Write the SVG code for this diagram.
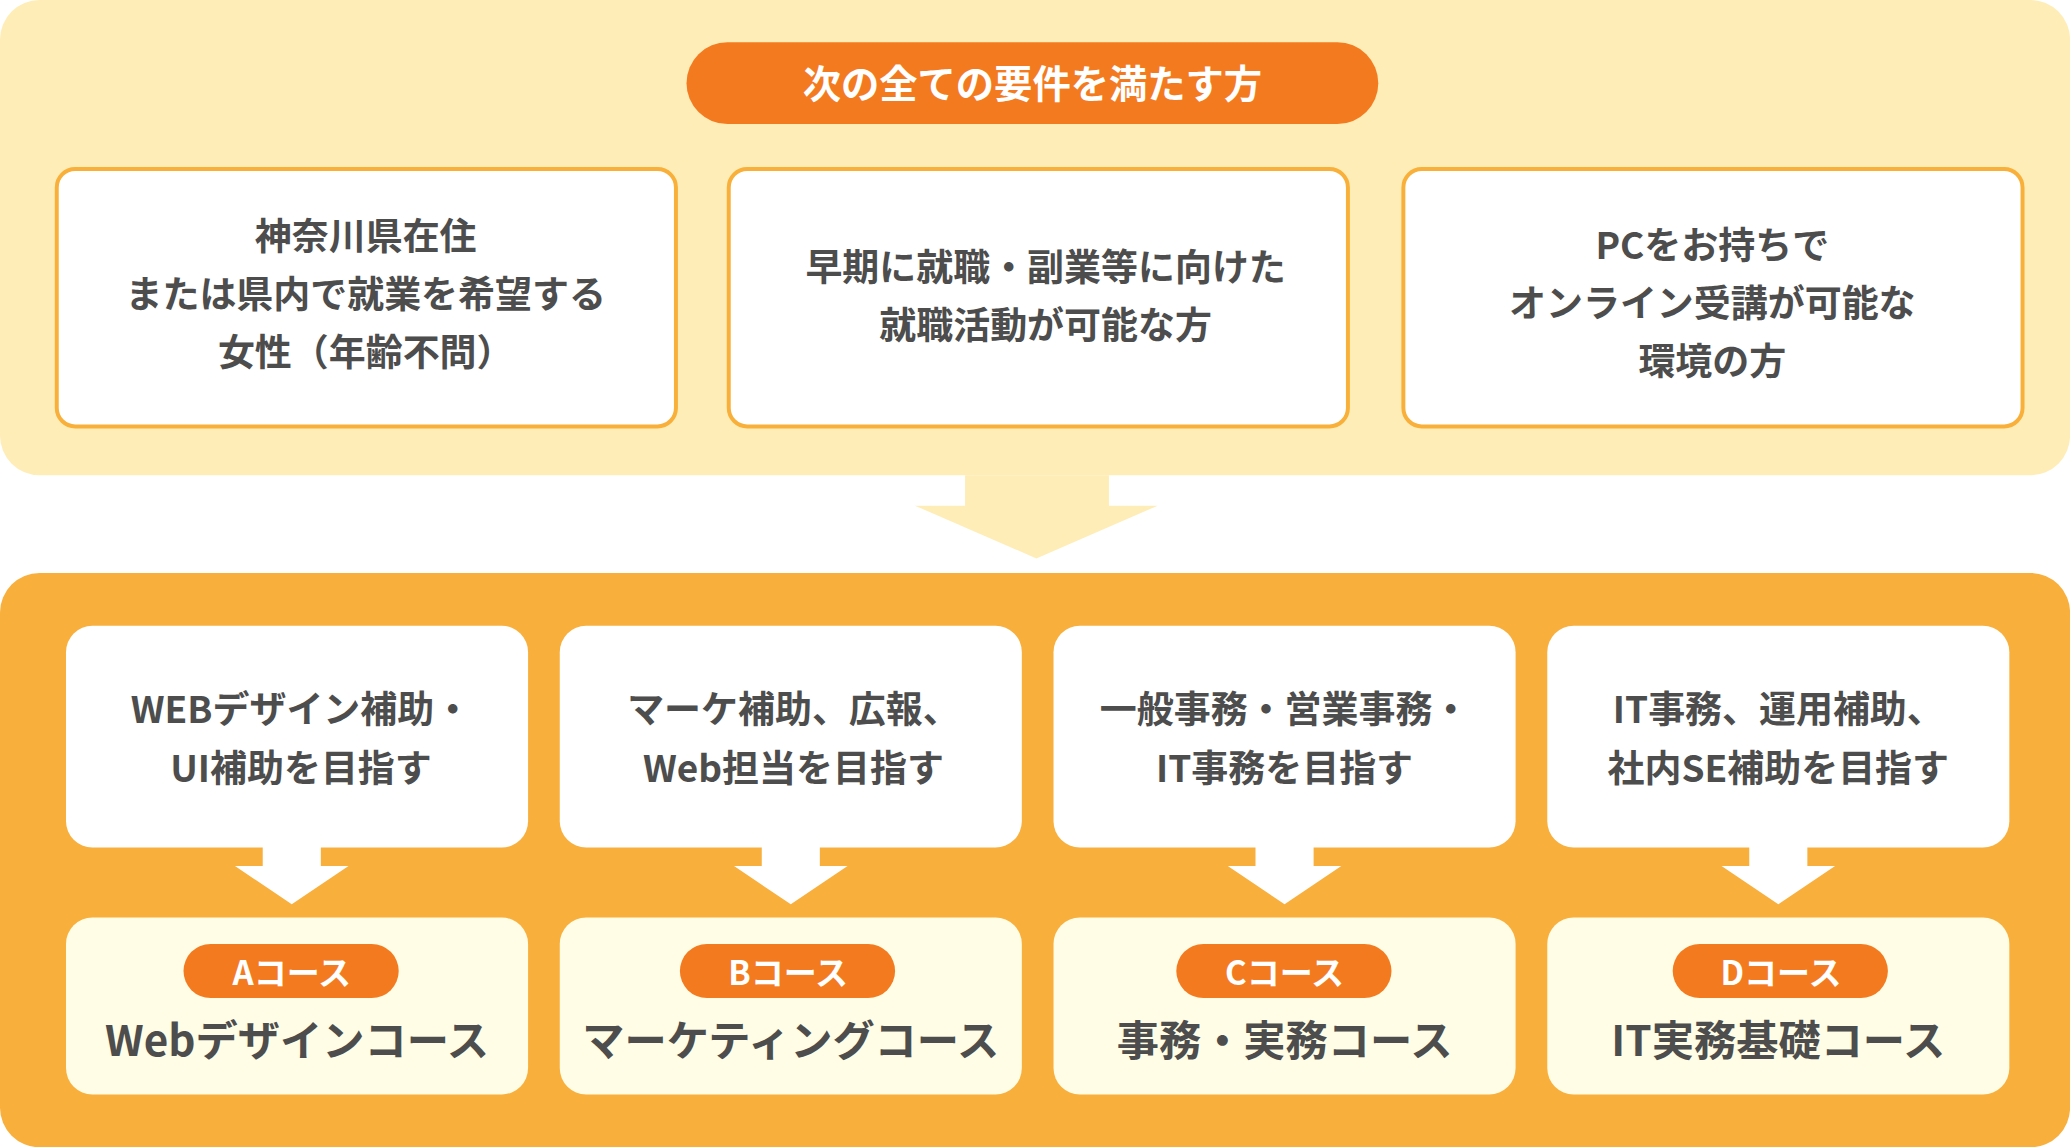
<svg xmlns="http://www.w3.org/2000/svg" width="2070" height="1147" viewBox="0 0 2070 1147">
<style>
.t{font-family:"Noto Sans CJK JP","Noto Sans",sans-serif;font-weight:bold;fill:#4d4d4d;text-anchor:middle}
.w{fill:#fff}
.req{fill:#fff;stroke:#f9b03a;stroke-width:3}
.pill{fill:#f47a20}
.crs{fill:#fffde6}
</style>
<rect width="2070" height="1147" fill="#fff"/>
<g transform="scale(1.3202)">
<g id="top-panel"><rect x="0" y="0" width="1568" height="360" rx="30" fill="#ffedb8"/></g>
<g id="title"><rect x="520" y="32" width="524" height="62" rx="31" class="pill"/><text x="782" y="74" class="t w" font-size="29" style="fill:#fff">次の全ての要件を満たす方</text></g>
<g id="req1"><rect x="43" y="128" width="469" height="195" rx="14" class="req"/><text class="t" font-size="28"><tspan x="277" y="189">神奈川県在住</tspan><tspan x="277" y="233">または県内で就業を希望する</tspan><tspan x="277" y="277">女性（年齢不問）</tspan></text></g>
<g id="req2"><rect x="552" y="128" width="469" height="195" rx="14" class="req"/><text class="t" font-size="28"><tspan x="792" y="213">早期に就職・副業等に向けた</tspan><tspan x="792" y="257">就職活動が可能な方</tspan></text></g>
<g id="req3"><rect x="1063" y="128" width="469" height="195" rx="14" class="req"/><text class="t" font-size="28"><tspan x="1297" y="196">PCをお持ちで</tspan><tspan x="1297" y="240">オンライン受講が可能な</tspan><tspan x="1297" y="284">環境の方</tspan></text></g>
<g id="connectors">
<path d="M731 360H840V383H877L785 423L693 383H731Z" fill="#ffedb8"/>
</g>
<g id="bottom-panel"><rect x="0" y="434" width="1568" height="435" rx="30" fill="#f9af3c"/></g>
<g id="small-arrows" fill="#fff">
<path d="M199 640H243V656H264L221 685L178 656H199Z"/>
<path d="M577 640H621V656H642L599 685L556 656H577Z"/>
<path d="M951 640H995V656H1016L973 685L930 656H951Z"/>
<path d="M1325 640H1369V656H1390L1347 685L1304 656H1325Z"/>
</g>
<g id="goal1"><rect x="50" y="474" width="350" height="168" rx="20" fill="#fff"/><text class="t" font-size="28"><tspan x="228" y="548">WEBデザイン補助・</tspan><tspan x="228" y="592">UI補助を目指す</tspan></text></g>
<g id="goal2"><rect x="424" y="474" width="350" height="168" rx="20" fill="#fff"/><text class="t" font-size="28"><tspan x="601" y="548">マーケ補助、広報、</tspan><tspan x="601" y="592">Web担当を目指す</tspan></text></g>
<g id="goal3"><rect x="798" y="474" width="350" height="168" rx="20" fill="#fff"/><text class="t" font-size="28"><tspan x="973" y="548">一般事務・営業事務・</tspan><tspan x="973" y="592">IT事務を目指す</tspan></text></g>
<g id="goal4"><rect x="1172" y="474" width="350" height="168" rx="20" fill="#fff"/><text class="t" font-size="28"><tspan x="1347" y="548">IT事務、運用補助、</tspan><tspan x="1347" y="592">社内SE補助を目指す</tspan></text></g>
<g id="courseA"><rect x="50" y="695" width="350" height="134" rx="20" class="crs"/><rect x="139" y="715" width="163" height="41" rx="20.5" class="pill"/><text x="221" y="746" class="t" font-size="25" style="fill:#fff">Aコース</text><text x="225" y="800" class="t" font-size="32">Webデザインコース</text></g>
<g id="courseB"><rect x="424" y="695" width="350" height="134" rx="20" class="crs"/><rect x="515" y="715" width="163" height="41" rx="20.5" class="pill"/><text x="597" y="746" class="t" font-size="25" style="fill:#fff">Bコース</text><text x="599" y="800" class="t" font-size="32">マーケティングコース</text></g>
<g id="courseC"><rect x="798" y="695" width="350" height="134" rx="20" class="crs"/><rect x="891" y="715" width="163" height="41" rx="20.5" class="pill"/><text x="973" y="746" class="t" font-size="25" style="fill:#fff">Cコース</text><text x="973" y="800" class="t" font-size="32">事務・実務コース</text></g>
<g id="courseD"><rect x="1172" y="695" width="350" height="134" rx="20" class="crs"/><rect x="1267" y="715" width="163" height="41" rx="20.5" class="pill"/><text x="1349" y="746" class="t" font-size="25" style="fill:#fff">Dコース</text><text x="1347" y="800" class="t" font-size="32">IT実務基礎コース</text></g>
</g>
</svg>
